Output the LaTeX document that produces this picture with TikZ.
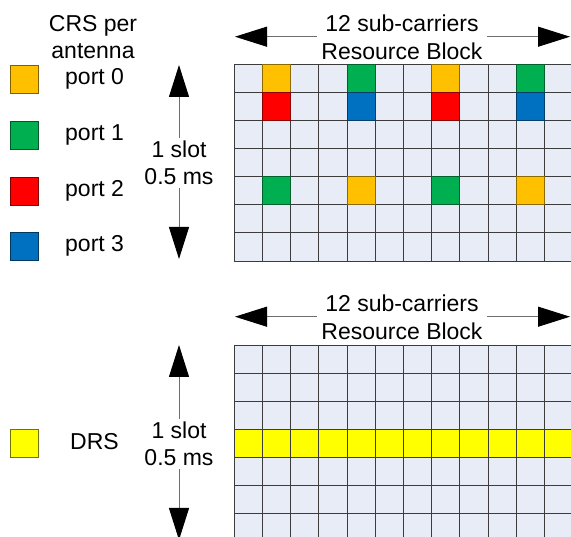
\documentclass[tikz,border=0pt]{standalone}
\usepackage{fontspec}
\setmainfont{Liberation Sans}
\usetikzlibrary{arrows.meta}
\definecolor{cOr}{RGB}{255,192,0}
\definecolor{cGr}{RGB}{0,176,80}
\definecolor{cRe}{RGB}{255,0,0}
\definecolor{cBl}{RGB}{0,112,192}
\definecolor{cYe}{RGB}{255,255,0}
\definecolor{cCell}{RGB}{231,236,246}
\definecolor{cGrid}{RGB}{60,60,60}
\definecolor{cShaft}{RGB}{110,110,110}
\tikzset{
  txt/.style={font=\fontsize{23}{27.5}\selectfont, inner sep=0pt},
  lbl/.style={txt, fill=white, align=center, inner xsep=4pt, inner ysep=3pt},
  gridline/.style={draw=cGrid, line width=0.9pt},
  dimarrow/.style={draw=cShaft, line width=1pt, {Triangle[length=32pt,width=20pt,black]}-{Triangle[length=32pt,width=20pt,black]}},
  legsq/.style={minimum width=28pt, minimum height=28pt, inner sep=0pt, line width=0.9pt},
  rscell/.style={line width=0.9pt},
}
\begin{document}
\begin{tikzpicture}[x=1pt,y=-1pt]
\useasboundingbox (0,0) rectangle (571,537);
\clip (0,0) rectangle (571,537);
% ---------- top grid ----------
\fill[cCell] (234.3,64.3) rectangle (234.3+12*28.2,64.3+7*28.1);
\foreach \i in {0,...,12} \draw[gridline] (234.3+\i*28.2,64.3) -- (234.3+\i*28.2,64.3+7*28.1);
\foreach \j in {0,...,7} \draw[gridline] (234.3,64.3+\j*28.1) -- (234.3+12*28.2,64.3+\j*28.1);
\foreach \c/\r/\col in {1/0/cOr,4/0/cGr,7/0/cOr,10/0/cGr,1/1/cRe,4/1/cBl,7/1/cRe,10/1/cBl,1/4/cGr,4/4/cOr,7/4/cGr,10/4/cOr}
  \filldraw[rscell, fill=\col, draw=\col!55!black] (234.3+\c*28.2,64.3+\r*28.1) rectangle ++(28.2,28.1);
% ---------- bottom grid ----------
\fill[cCell] (234.3,345) rectangle (234.3+12*28.2,345+7*28.1);
\fill[cYe] (234.3,345+3*28.1) rectangle (234.3+12*28.2,345+4*28.1);
\foreach \i in {0,...,12} \draw[gridline] (234.3+\i*28.2,345) -- (234.3+\i*28.2,345+7*28.1);
\foreach \j in {0,...,7} \draw[gridline] (234.3,345+\j*28.1) -- (234.3+12*28.2,345+\j*28.1);
% ---------- horizontal dimension arrows ----------
\coordinate (tL) at (235,36.7);
\coordinate (tR) at (570,36.7);
\draw[dimarrow] (tL) -- (tR);
\node[lbl] (tRB) at (402,37.5) {12 sub-carriers\\Resource Block};
\coordinate (bL) at (235,316.7);
\coordinate (bR) at (570,316.7);
\draw[dimarrow] (bL) -- (bR);
\node[lbl] (bRB) at (402,317.5) {12 sub-carriers\\Resource Block};
% ---------- vertical dimension arrows ----------
\coordinate (tT) at (179,65);
\coordinate (tB) at (179,259);
\draw[dimarrow] (tT) -- (tB);
\node[lbl] (tSlot) at (179,163) {1 slot\\0.5 ms};
\coordinate (bT) at (179,345);
\coordinate (bB) at (179,540);
\draw[dimarrow] (bT) -- (bB);
\node[lbl] (bSlot) at (179,444) {1 slot\\0.5 ms};
% ---------- legend ----------
\node[txt, align=center] (crs) at (93,37) {CRS per\\antenna};
\node[legsq, fill=cOr, draw=cOr!50!black] (s0) at (24,79) {};
\node[legsq, fill=cGr, draw=cGr!50!black] (s1) at (24,135) {};
\node[legsq, fill=cRe, draw=cRe!50!black] (s2) at (24,191) {};
\node[legsq, fill=cBl, draw=cBl!50!black] (s3) at (24,246) {};
\node[txt, anchor=west] (p0) at (65,79) {port 0};
\node[txt, anchor=west] (p1) at (65,135) {port 1};
\node[txt, anchor=west] (p2) at (65,191) {port 2};
\node[txt, anchor=west] (p3) at (65,246) {port 3};
\node[legsq, fill=cYe, draw=cYe!45!black] (sd) at (24,443) {};
\node[txt, anchor=west] (drs) at (70,442) {DRS};
\end{tikzpicture}
\end{document}
